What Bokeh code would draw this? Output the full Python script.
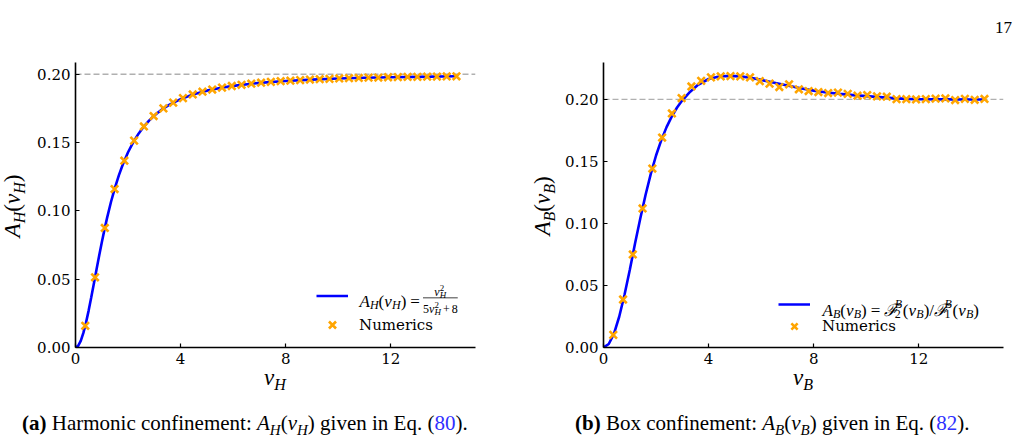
import math
from bokeh.plotting import figure
from bokeh.models import (Range1d, FixedTicker, PrintfTickFormatter, Span, Label,
                          Legend, LegendItem, BoxAnnotation, Div)
from bokeh.layouts import row, column
from bokeh.embed import file_html
from bokeh.resources import INLINE

# ---------------- data ----------------
nu_num = [0.372, 0.744, 1.115, 1.487, 1.859, 2.231, 2.603, 2.974, 3.346, 3.718,
          4.090, 4.462, 4.833, 5.205, 5.577, 5.949, 6.321, 6.692, 7.064, 7.436,
          7.808, 8.179, 8.551, 8.923, 9.295, 9.667, 10.038, 10.410, 10.782, 11.154,
          11.526, 11.897, 12.269, 12.641, 13.013, 13.385, 13.756, 14.128, 14.500]
ah_num = [0.0159, 0.0514, 0.0875, 0.1160, 0.1367, 0.1514, 0.1618, 0.1694, 0.1750, 0.1792,
          0.1825, 0.1852, 0.1872, 0.1888, 0.1902, 0.1914, 0.1923, 0.1931, 0.1938, 0.1944,
          0.1949, 0.1953, 0.1957, 0.1961, 0.1964, 0.1966, 0.1969, 0.1971, 0.1973, 0.1975,
          0.1976, 0.1978, 0.1979, 0.1980, 0.1981, 0.1982, 0.1983, 0.1984, 0.1985]
ab_num = [0.0102, 0.0387, 0.0750, 0.1121, 0.1443, 0.1693, 0.1887, 0.2011, 0.2105, 0.2150,
          0.2178, 0.2186, 0.2188, 0.2186, 0.2178, 0.2148, 0.2128, 0.2100, 0.2122, 0.2082,
          0.2068, 0.2060, 0.2052, 0.2055, 0.2045, 0.2030, 0.2035, 0.2025, 0.2022, 0.2003,
          0.2002, 0.2000, 0.2003, 0.2006, 0.2008, 0.1995, 0.2005, 0.1997, 0.2004]

nu_line_h = [0, 0.1, 0.2, 0.3, 0.4, 0.5, 0.6, 0.7, 0.8, 0.9, 1.0, 1.1, 1.2, 1.35, 1.5,
             1.65, 1.8, 2.0, 2.2, 2.4, 2.6, 2.8, 3.0, 3.3, 3.6, 4.0, 4.5, 5.0, 5.5, 6.0,
             7.0, 8.0, 9.0, 10.0, 11.0, 12.0, 13.0, 14.5]
ah_line = [0, 0.0012, 0.0049, 0.0107, 0.0182, 0.0270, 0.0367, 0.0469, 0.0571, 0.0672,
           0.0769, 0.0861, 0.0947, 0.1065, 0.1169, 0.1260, 0.1339, 0.1429, 0.1503, 0.1565,
           0.1617, 0.1661, 0.1698, 0.1744, 0.1780, 0.1818, 0.1854, 0.1880, 0.1900, 0.1915,
           0.1937, 0.1951, 0.1961, 0.1969, 0.1974, 0.1978, 0.1981, 0.1985]

nu_line_b = [0, 0.2, 0.4, 0.6, 0.8, 1.0, 1.2, 1.4, 1.6, 1.8, 2.0, 2.2, 2.4, 2.6, 2.8,
             3.0, 3.3, 3.6, 4.0, 4.4, 4.8, 5.2, 5.6, 6.0, 6.5, 7.0, 7.5, 8.0, 8.5, 9.0,
             9.5, 10.0, 10.5, 11.0, 11.5, 12.0, 13.0, 14.0, 14.5]
ab_line = [0, 0.0028, 0.0112, 0.0250, 0.0425, 0.0625, 0.0838, 0.1040, 0.1230, 0.1400,
           0.1548, 0.1672, 0.1777, 0.1863, 0.1935, 0.1993, 0.2063, 0.2118, 0.2165, 0.2185,
           0.2190, 0.2186, 0.2175, 0.2158, 0.2135, 0.2112, 0.2090, 0.2071, 0.2056, 0.2045,
           0.2035, 0.2027, 0.2019, 0.2011, 0.2005, 0.2002, 0.2001, 0.2000, 0.2000]

asymptote = 0.2
x_ticks = [0, 4, 8, 12]
y_ticks = [0.0, 0.05, 0.10, 0.15, 0.20]
x_range = (0, 15.225)
y_range_h = (0, 0.2086)
y_range_b = (0, 0.2298)

# ---------------- styling ----------------
BLUE = "#0000ff"
ORANGE = "#ffa500"
LINK = "#3030ff"
SERIF = "Liberation Serif"
TICKFONT = "DejaVu Serif"

REG = {' ': .25, '(': .333, ')': .333, '.': .25, ':': .278, '=': .564, '+': .564, '/': .278,
       'B': .667, 'E': .611, 'H': .722, 'N': .722, 'a': .444, 'b': .5, 'c': .444, 'd': .5,
       'e': .444, 'f': .333, 'g': .5, 'h': .5, 'i': .278, 'l': .278, 'm': .778, 'n': .5,
       'o': .5, 'q': .5, 'r': .333, 's': .389, 't': .278, 'u': .5, 'v': .5, 'x': .5}
IT = {'A': .611, 'B': .611, 'H': .722, 'ν': .46, 'ℱ': .62}
BOLD = {'(': .333, ')': .333, 'a': .5, 'b': .556}


def tw(s, size, style):
    tab = {"normal": REG, "italic": IT, "bold": BOLD}[style]
    return sum(tab.get(c, REG.get(c, .5)) for c in s) * size


def put(p, fl, fb, px, py, parts):
    """Text pieces inside the frame; px,py are page coords of the baseline start.
    A part is (text, size, style, rise[, advance]); blank text only advances."""
    adv = 0.0
    for part in parts:
        txt, size, style, rise = part[:4]
        a = part[4] if len(part) > 4 and part[4] is not None else tw(txt, size, style)
        if txt.strip():
            p.add_layout(Label(x=px + adv - fl, y=fb - (py - rise), x_units="screen",
                               y_units="screen", text=txt, text_font=SERIF,
                               text_font_size=f"{size}px", text_font_style=style,
                               text_color="black", text_align="left",
                               text_baseline="alphabetic"))
        adv += a
    return adv


def runlen(parts):
    return sum(part[4] if len(part) > 4 and part[4] is not None else tw(*part[:3])
               for part in parts)


FIG_H = 327


def make_fig(yr, bl, br):
    p = figure(width=bl + 400 + br, height=FIG_H, x_range=Range1d(*x_range),
               y_range=Range1d(*yr), output_backend="svg", toolbar_location=None,
               min_border_left=bl, min_border_right=br, min_border_top=18,
               min_border_bottom=24)
    p.outline_line_color = None
    p.grid.visible = False
    p.background_fill_color = "white"
    p.border_fill_color = "white"
    for ax in (p.xaxis[0], p.yaxis[0]):
        ax.axis_line_width = 1.6
        ax.axis_line_color = "black"
        ax.major_tick_in = 4
        ax.major_tick_out = 0
        ax.major_tick_line_width = 1.2
        ax.minor_tick_line_color = None
        ax.major_label_text_font = TICKFONT
        ax.major_label_text_font_size = "15px"
        ax.major_label_text_color = "black"
        ax.major_label_standoff = 5
    p.xaxis.ticker = FixedTicker(ticks=x_ticks)
    p.yaxis.ticker = FixedTicker(ticks=y_ticks)
    p.xaxis.formatter = PrintfTickFormatter(format="%d")
    p.yaxis.formatter = PrintfTickFormatter(format="%.2f")
    p.add_layout(Span(location=asymptote, dimension="width", line_color="#b0b0b0",
                      line_dash="6 3", line_width=1.3, level="underlay"))
    return p


def add_data(p, xl, yl, xn, yn):
    lr = p.line(xl, yl, line_color=BLUE, line_width=2.6)
    sr = p.scatter(xn, yn, marker="x", size=10.5, line_color=ORANGE, line_width=2.6)
    return lr, sr


def add_legend(p, lr, sr, loc, gh, spacing, standoff):
    leg = Legend(items=[LegendItem(label=" ", renderers=[lr]),
                        LegendItem(label="Numerics", renderers=[sr])],
                 location=loc, padding=0, margin=0, spacing=spacing,
                 glyph_width=32, glyph_height=gh, label_height=gh,
                 label_standoff=standoff, border_line_alpha=0,
                 background_fill_alpha=0, label_text_font=TICKFONT,
                 label_text_font_size="15px", label_text_color="black")
    p.add_layout(leg)


# ---------------- HTML text helpers (outside the plot frames) ----------------
def sub(t, size, drop):
    return (f'<span style="font-size:{size}px;position:relative;top:{drop}px;'
            f'font-style:italic">{t}</span>')


def math_A(letter, size):
    s = round(size * 0.7)
    d = round(size * 0.22)
    return (f'<i>A</i>{sub(letter, s, d)}(<i>ν</i>{sub(letter, s, d)})')


def box_div(width, height, inner):
    html = (f'<div style="position:relative;width:{width}px;height:{height}px;'
            f'overflow:visible;font-family:\'{SERIF}\';color:black">{inner}</div>')
    return Div(text=html, width=width, height=height, margin=0,
               styles={"overflow": "visible"})


def abs_span(left, top, size, content, extra=""):
    return (f'<span style="position:absolute;left:{left}px;top:{top}px;'
            f'font-size:{size}px;line-height:1;white-space:nowrap;{extra}">{content}</span>')


# ================= left panel =================
FL1, FB = 75, 347
p1 = make_fig(y_range_h, 45, 35)
lr1, sr1 = add_data(p1, nu_line_h, ah_line, nu_num, ah_num)
add_legend(p1, lr1, sr1, (241, 10), 25, 4, 11)

M, S = 17, 12
lf1 = [("A", M, "italic", 0), ("H", S, "italic", -3.5), ("(", M, "normal", 0),
       ("ν", M, "italic", 0), ("H", S, "italic", -3.5), (")", M, "normal", 0),
       (" ", M, "normal", 0, 4), ("=", M, "normal", 0), (" ", M, "normal", 0, 3)]
end = 359 + put(p1, FL1, FB, 359, 301, lf1)
F, FS = 12, 9
den = [("5", F, "normal", 0), ("ν", F, "italic", 0), ("2", FS, "normal", 4.5, 0),
       ("H", FS, "italic", -2.5), (" ", F, "normal", 0, 2), ("+", F, "normal", 0),
       (" ", F, "normal", 0, 2), ("8", F, "normal", 0)]
num = [("ν", F, "italic", 0), ("2", FS, "normal", 4.5, 0), ("H", FS, "italic", -2.5)]
dw = runlen(den)
put(p1, FL1, FB, end, 308.5, den)
put(p1, FL1, FB, end + (dw - runlen(num)) / 2, 291.5, num)
p1.add_layout(BoxAnnotation(left=end - FL1, right=end + dw - FL1,
                            bottom=FB - 297.8, top=FB - 296.9,
                            left_units="screen", right_units="screen",
                            bottom_units="screen", top_units="screen",
                            fill_color="black", fill_alpha=1, line_alpha=0))

# ================= right panel =================
FL2 = 603
p2 = make_fig(y_range_b, 45, 16)
lr2, sr2 = add_data(p2, nu_line_b, ab_line, nu_num, ab_num)
add_legend(p2, lr2, sr2, (175, 10), 22, 0, 12)

lf2 = [("A", M, "italic", 0), ("B", S, "italic", -3.5), ("(", M, "normal", 0),
       ("ν", M, "italic", 0), ("B", S, "italic", -3.5), (")", M, "normal", 0),
       (" ", M, "normal", 0, 4), ("=", M, "normal", 0), (" ", M, "normal", 0, 4),
       ("ℱ", M, "italic", 0), ("B", S, "italic", 6.5, 0), ("2", S, "normal", -3.5, 8),
       ("(", M, "normal", 0), ("ν", M, "italic", 0), ("B", S, "italic", -3.5),
       (")", M, "normal", 0), ("/", M, "normal", 0),
       ("ℱ", M, "italic", 0), ("B", S, "italic", 6.5, 0), ("1", S, "normal", -3.5, 8),
       ("(", M, "normal", 0), ("ν", M, "italic", 0), ("B", S, "italic", -3.5),
       (")", M, "normal", 0)]
put(p2, FL2, FB, 822, 309.5, lf2)

# ================= texts outside the frames (HTML) =================
ROT = "transform:translate(-50%,-50%) rotate(-90deg);"
ylab1 = box_div(30, FIG_H, abs_span(12, 162, 23, math_A("H", 23), ROT))
ylab2 = box_div(48, FIG_H, abs_span(32, 162, 23, math_A("B", 23), ROT))

XC = "transform:translateX(-50%);font-style:normal;"
xl_html = (abs_span(275, -5, 23, f'<i>ν</i>{sub("H", 16, 5)}', XC) +
           abs_span(803, -5, 23, f'<i>ν</i>{sub("B", 16, 5)}', XC))
xlabs = box_div(1019, 29, xl_html)

cap1 = (f'<b>(a)</b> Harmonic confinement: {math_A("H", 21)} given in Eq. '
        f'(<span style="color:{LINK}">80</span>).')
cap2 = (f'<b>(b)</b> Box confinement: {math_A("B", 21)} given in Eq. '
        f'(<span style="color:{LINK}">82</span>).')
caps = box_div(1019, 41, abs_span(22, 13, 21, cap1) + abs_span(575, 13, 21, cap2))

top = box_div(1019, 44, abs_span(1012, 19, 17, "17", "transform:translateX(-100%);"))

layout = column(top, row(ylab1, p1, ylab2, p2, spacing=0), xlabs, caps, spacing=0)
open("out.html", "w").write(file_html(layout, INLINE))
